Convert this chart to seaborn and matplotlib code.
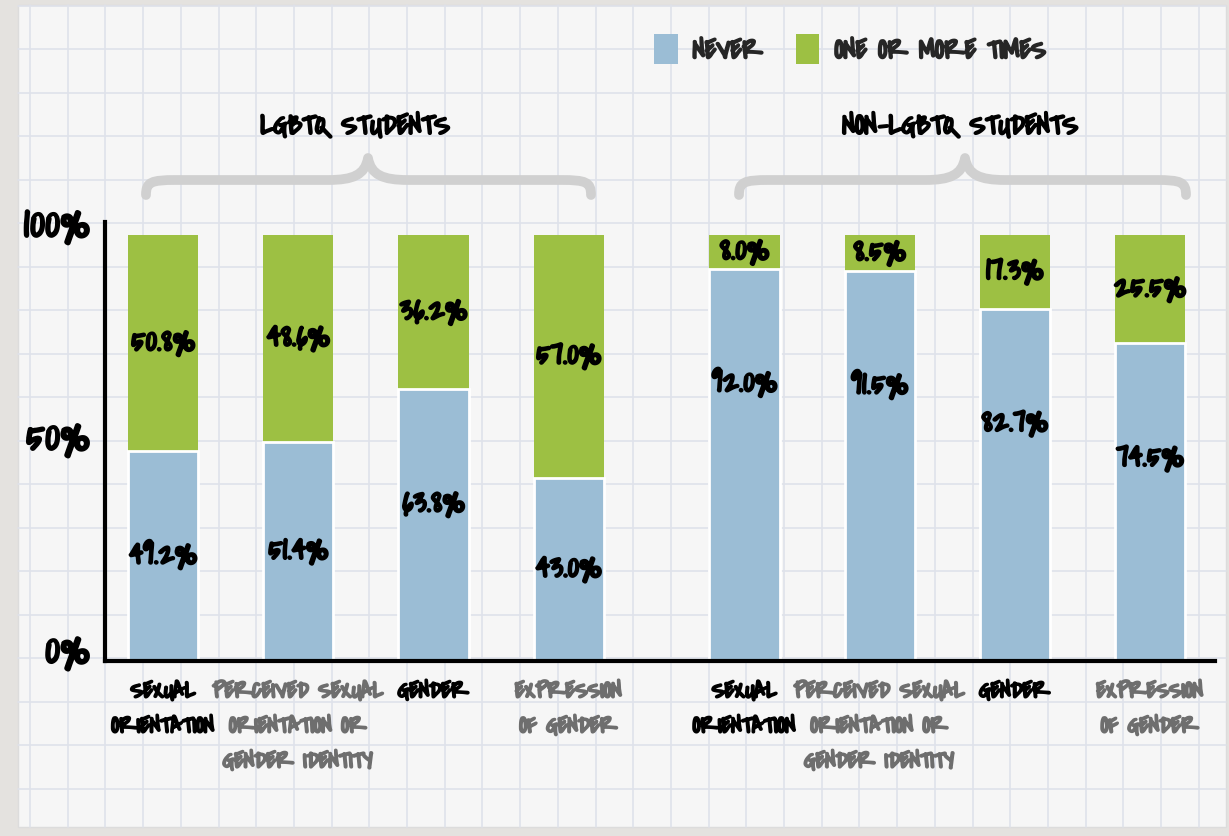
import numpy as np
import pandas as pd
import matplotlib.pyplot as plt
import matplotlib.patheffects as pe
import matplotlib.transforms as mtransforms
import seaborn as sns
from matplotlib.text import Text
from matplotlib.patches import Patch, Rectangle, PathPatch
from matplotlib.path import Path

# Chart data
groups = ['LGBTQ STUDENTS'] * 4 + ['NON-LGBTQ STUDENTS'] * 4
questions = ['SEXUAL\nORIENTATION',
             'PERCEIVED SEXUAL\nORIENTATION OR\nGENDER IDENTITY',
             'GENDER',
             'EXPRESSION\nOF GENDER'] * 2
never = [49.2, 51.4, 63.8, 43.0, 92.0, 91.5, 82.7, 74.5]
one_or_more = [50.8, 48.6, 36.2, 57.0, 8.0, 8.5, 17.3, 25.5]
y_ticks = [0, 50, 100]
y_tick_labels = ['0%', '50%', '100%']
legend_labels = ['NEVER', 'ONE OR MORE TIMES']

BLUE = '#9bbdd5'
GREEN = '#9dc043'
GRAY_TEXT = '#6e6e6e'

df = pd.DataFrame({'group': groups, 'question': questions,
                   'never': never, 'one_or_more': one_or_more})
df['total'] = df['never'] + df['one_or_more']
# slot index plus a small gap between the two student groups
df['pos'] = np.arange(len(df)) + np.where(df['group'] == groups[0], 0.0, 0.3)

sns.set_style('white')
# marker-like handwriting font, others fill in missing glyphs such as %
plt.rcParams['font.family'] = ['Covered By Your Grace', 'Gochi Hand', 'DejaVu Sans']

fig = plt.figure(figsize=(12.29, 8.36), dpi=100)
fig.patch.set_facecolor('#e4e2df')

# graph paper background, drawn in pixel coordinates
bg = fig.add_axes([0, 0, 1, 1], zorder=0)
bg.set_xlim(0, 1229)
bg.set_ylim(836, 0)
bg.axis('off')
bg.add_patch(Rectangle((18, 5), 1208, 822, facecolor='#f6f6f6', edgecolor='#dcdcdc', lw=1))
for gx in np.arange(30, 1226, 37.7):
    bg.plot([gx, gx], [5, 827], color='#dfe2ea', lw=1.2, zorder=1)
for gy in np.arange(5.5, 827, 43.5):
    bg.plot([18, 1226], [gy, gy], color='#dfe2ea', lw=1.2, zorder=1)


def brace(left, right, mid, base=180, tip=158, end=195):
    verts = [(left, end), (left, base + 2), (left + 5, base), (left + 30, base),
             (mid - 40, base),
             (mid - 15, base), (mid - 3, base - 5), (mid, tip),
             (mid + 3, base - 5), (mid + 15, base), (mid + 40, base),
             (right - 30, base),
             (right - 5, base), (right, base + 2), (right, end)]
    codes = [Path.MOVETO, Path.CURVE4, Path.CURVE4, Path.CURVE4,
             Path.LINETO,
             Path.CURVE4, Path.CURVE4, Path.CURVE4,
             Path.CURVE4, Path.CURVE4, Path.CURVE4,
             Path.LINETO,
             Path.CURVE4, Path.CURVE4, Path.CURVE4]
    bg.add_patch(PathPatch(Path(verts, codes), fill=False, edgecolor='#d0d0d0',
                           lw=7, capstyle='round', joinstyle='round', zorder=2))


brace(146, 591, 368)
brace(739, 1186, 965)
bg.text(355, 128, groups[0], ha='center', va='center', fontsize=21, color='black')
bg.text(960, 128, groups[4], ha='center', va='center', fontsize=21, color='black')

# main chart
ax = fig.add_axes([105 / 1229, 1 - 661 / 836, 1110 / 1229, 439 / 836], zorder=2)
ax.patch.set_alpha(0)
sns.barplot(data=df, x='pos', y='total', native_scale=True, color=GREEN,
            saturation=1, width=0.52, linewidth=0, ax=ax)
sns.barplot(data=df, x='pos', y='never', native_scale=True, color=BLUE,
            saturation=1, width=0.52, edgecolor='white', linewidth=2, ax=ax)

for _, r in df.iterrows():
    ax.text(r['pos'], r['never'] + r['one_or_more'] / 2, f"{r['one_or_more']:.1f}%",
            ha='center', va='center', fontsize=25, color='black')
    ax.text(r['pos'], r['never'] - min(r['never'] / 2, 27), f"{r['never']:.1f}%",
            ha='center', va='center', fontsize=25, color='black')

ax.set_xlim(-0.43, 7.78)
ax.set_ylim(0, 103)
ax.set_xticks(df['pos'])
ax.set_xticklabels(df['question'], fontsize=17, linespacing=1.65, va='top')
for i, lab in enumerate(ax.get_xticklabels()):
    lab.set_color('black' if i % 2 == 0 else GRAY_TEXT)
ax.tick_params(axis='x', length=0, pad=14)
ax.set_yticks(y_ticks, y_tick_labels)
ax.tick_params(axis='y', length=8, width=3, direction='out', pad=3, labelsize=33, colors='black')
lift = mtransforms.ScaledTranslation(0, 14 / 100, fig.dpi_scale_trans)
for lab in ax.get_yticklabels():
    lab.set_transform(lab.get_transform() + lift)
ax.set_xlabel('')
ax.set_ylabel('')
for side in ['top', 'right']:
    ax.spines[side].set_visible(False)
for side in ['left', 'bottom']:
    ax.spines[side].set_color('black')
    ax.spines[side].set_linewidth(3)

handles = [Patch(facecolor=BLUE, edgecolor='none'), Patch(facecolor=GREEN, edgecolor='none')]
ax.legend(handles, legend_labels, loc='center left', bbox_to_anchor=(640 / 1229, 1 - 50 / 836),
          bbox_transform=fig.transFigure, ncol=2, frameon=False, fontsize=20,
          handlelength=0.85, handleheight=1.3, handletextpad=0.55, columnspacing=1.2, borderpad=0)

# thicken the strokes a little, like a marker pen
for t in fig.findobj(Text):
    t.set_path_effects([pe.withStroke(linewidth=1.5, foreground=t.get_color())])

fig.savefig('out.png', dpi=100, facecolor=fig.get_facecolor())
